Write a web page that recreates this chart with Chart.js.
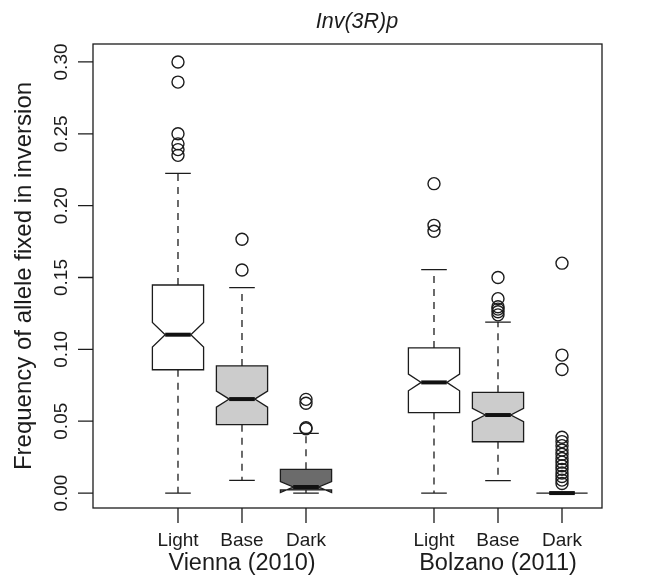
<!DOCTYPE html>
<html><head><meta charset="utf-8">
<script src="https://cdn.jsdelivr.net/npm/chart.js@4.4.0/dist/chart.umd.min.js"></script>
<style>html,body{margin:0;padding:0;background:#fff;} #wrap{width:649px;height:583px;position:relative;}</style>
</head><body><div id="wrap"><canvas id="c"></canvas></div>
<script>
// ---- data ----
const categories = ["Light", "Base", "Dark", "Light", "Base", "Dark"];
const positions = [1, 2, 3, 5, 6, 7];
const groupLabels = ["Vienna (2010)", "Bolzano (2011)"];
const groupCenters = [2, 6];
const whiskerLow  = [0.000, 0.0088, 0.000, 0.000, 0.0086, 0.000];
const q1          = [0.0858, 0.0476, 0.0022, 0.0560, 0.0357, 0.000];
const median      = [0.1102, 0.0654, 0.0042, 0.0770, 0.0543, 0.000];
const q3          = [0.1448, 0.0885, 0.0165, 0.1010, 0.0701, 0.000];
const whiskerHigh = [0.2225, 0.1430, 0.0415, 0.1555, 0.1190, 0.000];
const notchLow    = [0.1017, 0.0598, 0.0004, 0.0712, 0.0497, 0.000];
const notchHigh   = [0.1187, 0.0710, 0.0080, 0.0828, 0.0589, 0.000];
const outliers = [
  [0.300, 0.286, 0.250, 0.243, 0.239, 0.235],
  [0.1766, 0.1552],
  [0.0652, 0.0625, 0.0455, 0.0448],
  [0.2153, 0.1863, 0.1822],
  [0.1500, 0.1353, 0.1297, 0.1280, 0.1262, 0.1240],
  [0.160, 0.096, 0.086, 0.0388, 0.0358, 0.0330, 0.0300, 0.0270, 0.0240, 0.0215, 0.0190, 0.0165, 0.0140, 0.0115, 0.0090, 0.0067]
];
const fillColors = ["#ffffff", "#cccccc", "#6b6b6b", "#ffffff", "#cccccc", "#6b6b6b"];
const yTicks = [0, 0.05, 0.10, 0.15, 0.20, 0.25, 0.30];
const yTickLabels = ["0.00", "0.05", "0.10", "0.15", "0.20", "0.25", "0.30"];
const title = "Inv(3R)p";
const yTitle = "Frequency of allele fixed in inversion";

// ---- styling ----
const FONT = '"Liberation Sans", Arial, Helvetica, sans-serif';
const INK = '#1c1c1c';
const BOX_HALF = 0.4, NOTCH_HALF = 0.2, CAP_HALF = 0.2;

const outlierPoints = [];
outliers.forEach((arr, i) => arr.forEach(v => outlierPoints.push({x: positions[i], y: v})));

const boxPlugin = {
  id: 'boxes',
  beforeDatasetsDraw(chart) {
    const ctx = chart.ctx, xs = chart.scales.x, ys = chart.scales.y;
    ctx.save();
    positions.forEach((p, i) => {
      const xL = xs.getPixelForValue(p - BOX_HALF), xR = xs.getPixelForValue(p + BOX_HALF);
      const xLn = xs.getPixelForValue(p - NOTCH_HALF), xRn = xs.getPixelForValue(p + NOTCH_HALF);
      const xc = xs.getPixelForValue(p);
      const cL = xs.getPixelForValue(p - CAP_HALF), cR = xs.getPixelForValue(p + CAP_HALF);
      const Y = v => ys.getPixelForValue(v);
      // whiskers
      ctx.strokeStyle = INK; ctx.lineWidth = 1.3;
      ctx.setLineDash([7, 6]);
      ctx.beginPath();
      ctx.moveTo(xc, Y(q3[i])); ctx.lineTo(xc, Y(whiskerHigh[i]));
      ctx.moveTo(xc, Y(q1[i])); ctx.lineTo(xc, Y(whiskerLow[i]));
      ctx.stroke();
      ctx.setLineDash([]);
      ctx.beginPath();
      ctx.moveTo(cL, Y(whiskerHigh[i])); ctx.lineTo(cR, Y(whiskerHigh[i]));
      ctx.moveTo(cL, Y(whiskerLow[i])); ctx.lineTo(cR, Y(whiskerLow[i]));
      ctx.stroke();
      // notched box (R polygon order)
      ctx.beginPath();
      ctx.moveTo(xL, Y(q1[i]));
      ctx.lineTo(xL, Y(notchLow[i]));
      ctx.lineTo(xLn, Y(median[i]));
      ctx.lineTo(xL, Y(notchHigh[i]));
      ctx.lineTo(xL, Y(q3[i]));
      ctx.lineTo(xR, Y(q3[i]));
      ctx.lineTo(xR, Y(notchHigh[i]));
      ctx.lineTo(xRn, Y(median[i]));
      ctx.lineTo(xR, Y(notchLow[i]));
      ctx.lineTo(xR, Y(q1[i]));
      ctx.closePath();
      ctx.fillStyle = fillColors[i];
      ctx.fill();
      ctx.lineJoin = 'miter';
      ctx.stroke();
      // median
      ctx.lineWidth = 4;
      ctx.strokeStyle = '#111';
      ctx.beginPath();
      ctx.moveTo(xLn, Y(median[i])); ctx.lineTo(xRn, Y(median[i]));
      ctx.stroke();
    });
    ctx.restore();
  },
  afterDraw(chart) {
    const ctx = chart.ctx, xs = chart.scales.x, ys = chart.scales.y, a = chart.chartArea;
    ctx.save();
    ctx.strokeStyle = INK; ctx.fillStyle = INK; ctx.lineWidth = 1.3;
    // frame
    ctx.strokeRect(a.left, a.top, a.right - a.left, a.bottom - a.top);
    // y axis ticks + labels
    ctx.beginPath();
    yTicks.forEach(v => { const y = ys.getPixelForValue(v); ctx.moveTo(a.left, y); ctx.lineTo(a.left - 15, y); });
    ctx.stroke();
    ctx.font = '19px ' + FONT;
    ctx.textAlign = 'center'; ctx.textBaseline = 'middle';
    yTicks.forEach((v, k) => {
      const y = ys.getPixelForValue(v);
      ctx.save(); ctx.translate(62, y); ctx.rotate(-Math.PI / 2);
      ctx.fillText(yTickLabels[k], 0, 0); ctx.restore();
    });
    // x axis ticks + labels
    ctx.beginPath();
    positions.forEach(p => { const x = xs.getPixelForValue(p); ctx.moveTo(x, a.bottom); ctx.lineTo(x, a.bottom + 15); });
    ctx.stroke();
    positions.forEach((p, i) => ctx.fillText(categories[i], xs.getPixelForValue(p), 541));
    ctx.font = '23.5px ' + FONT;
    groupCenters.forEach((g, i) => ctx.fillText(groupLabels[i], xs.getPixelForValue(g), 564));
    // y title
    ctx.font = '24px ' + FONT;
    ctx.save(); ctx.translate(24, (a.top + a.bottom) / 2); ctx.rotate(-Math.PI / 2);
    ctx.fillText(yTitle, 0, 0); ctx.restore();
    // main title
    ctx.font = 'italic 21.5px ' + FONT;
    ctx.fillText(title, 357, 22);
    ctx.restore();
  }
};

new Chart(document.getElementById('c'), {
  type: 'scatter',
  data: { datasets: [{
    data: outlierPoints,
    pointRadius: 6, pointHoverRadius: 6, pointBorderWidth: 1.4,
    borderColor: INK, backgroundColor: 'rgba(0,0,0,0)', pointStyle: 'circle'
  }]},
  options: {
    responsive: true, maintainAspectRatio: false, animation: false, events: [],
    layout: { padding: { left: 93, top: 44, right: 47, bottom: 75 } },
    scales: {
      x: { type: 'linear', min: -0.328, max: 7.625, display: false },
      y: { type: 'linear', min: -0.0104, max: 0.3125, display: false }
    },
    plugins: { legend: { display: false }, tooltip: { enabled: false } }
  },
  plugins: [boxPlugin]
});
</script></body></html>
